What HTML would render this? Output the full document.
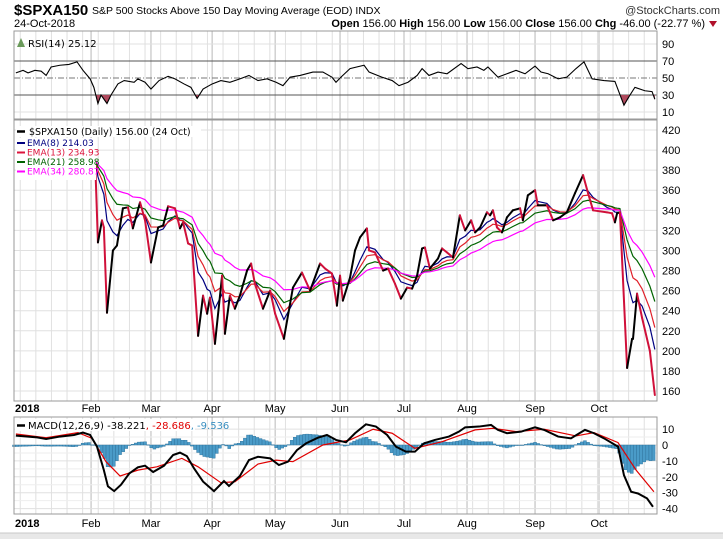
<!DOCTYPE html>
<html><head><meta charset="utf-8"><style>
body{margin:0;width:723px;height:539px;background:#fff;overflow:hidden;font-family:"Liberation Sans",sans-serif}
svg{position:absolute;left:0;top:0}
</style></head><body>
<svg id="c" width="723" height="539" viewBox="0 0 723 539">
<rect x="0" y="533" width="723" height="6" fill="#e8e8e8"/>
<line x1="0" y1="533" x2="723" y2="533" stroke="#c8c8c8"/>
<text x="14" y="15" font-size="15" font-weight="bold">$SPXA150</text>
<text x="92" y="14" font-size="10.5">S&amp;P 500 Stocks Above 150 Day Moving Average (EOD) INDX</text>
<text x="720" y="14" font-size="11" text-anchor="end" fill="#333">@StockCharts.com</text>
<text x="14" y="27" font-size="11">24-Oct-2018</text>
<text x="705" y="27" font-size="11" text-anchor="end"><tspan font-weight="bold">Open</tspan> 156.00 <tspan font-weight="bold">High</tspan> 156.00 <tspan font-weight="bold">Low</tspan> 156.00 <tspan font-weight="bold">Close</tspan> 156.00 <tspan font-weight="bold">Chg</tspan> -46.00 (-22.77 %)</text>
<polygon points="709,21 717,21 713,27" fill="#b0102a"/>
<g id="grid"></g>
<g id="marks"></g>
<g id="frames"></g>
<g id="legends">
<text x="28" y="47" font-size="10" font-family="DejaVu Sans">RSI(14) 25.12</text>
<polygon points="17,47 21,38 25,47" fill="#6a9a5a"/>
<rect x="16" y="126" width="185" height="11" fill="#fff"/>
<line x1="17" y1="131.5" x2="25" y2="131.5" stroke="#000" stroke-width="2.5"/>
<text x="29" y="135" font-size="9.5" font-family="DejaVu Sans">$SPXA150 (Daily) 156.00 (24 Oct)</text>
<g font-size="9" font-family="DejaVu Sans">
<rect x="16" y="138" width="80" height="42" fill="#fff"/>
<line x1="17" y1="143" x2="25" y2="143" stroke="#000080" stroke-width="2"/><text x="27" y="146" fill="#000080">EMA(8) 214.03</text>
<line x1="17" y1="152.5" x2="25" y2="152.5" stroke="#dc143c" stroke-width="2"/><text x="27" y="155.5" fill="#dc143c">EMA(13) 234.93</text>
<line x1="17" y1="162" x2="25" y2="162" stroke="#006400" stroke-width="2"/><text x="27" y="165" fill="#006400">EMA(21) 258.98</text>
<line x1="17" y1="171.5" x2="25" y2="171.5" stroke="#ff00ff" stroke-width="2"/><text x="27" y="174.5" fill="#ff00ff">EMA(34) 280.87</text>
</g>
<rect x="15" y="419" width="180" height="12" fill="#fff"/>
<line x1="17" y1="425.5" x2="25" y2="425.5" stroke="#000" stroke-width="2.5"/>
<text x="28" y="429" font-size="10" font-family="DejaVu Sans">MACD(12,26,9) -38.221<tspan fill="#e00000">, -28.686</tspan><tspan fill="#3a8fc0">, -9.536</tspan></text>
</g>
</svg>
<script>
// ---- data (day index = trading day since 2-Jan-2018) ----
const priceDays=[26.0,26.9,28.2,28.8,29.8,31.7,33,34.9,36.5,38.1,40.4,42,43.9,46.2,47.8,49.4,51.6,53.2,54.2,55.8,57.1,59,60.6,61.9,62.8,64.4,66.7,67.6,69.2,70.8,72.4,74.7,76,77.2,79.8,82.1,83.7,86.5,89.4,92.3,94.9,98.1,99.7,101.9,103.5,104.5,105.4,107.7,109.3,110.9,113.1,113.8,115.7,118.3,119.9,122.1,124,126,127.6,129.2,130.8,131.7,133.3,135.9,137.2,138.8,140.7,142.9,144.6,146.5,147.8,149.4,151.6,152.6,153.5,154.8,156.4,158,159.9,162.2,163.1,164.7,167,167.9,170.8,172.8,175,177.2,179.8,182.4,184,185.6,190.1,191.7,192.6,193.3,194.2,196.5,198.1,198.4,199.7,201.3,203.8,205.4];
const priceVals=[390,308,330,323,238,300,305,342,343,322,348,330,288,323,325,344,342,322,328,307,305,215,255,237,253,207,275,217,255,242,255,280,287,267,242,260,237,212,263,278,260,287,282,277,245,275,250,273,300,313,322,300,298,280,282,267,252,263,262,275,302,303,282,292,302,298,293,335,320,330,318,323,338,335,340,323,318,333,340,342,330,355,360,345,345,330,333,338,357,375,357,340,338,337,328,337,338,183,212,212,257,233,200,156];
const rsiDays=[0.6,2.9,4.5,6.7,8.7,10.3,11.9,14.7,17.6,20.2,22.1,24.4,25.6,26.9,27.9,29.8,31.1,33.3,35.3,38.5,39.7,42,43.9,46.5,49.4,51.6,54.5,56.7,58.7,60.6,63.5,66.3,69.2,72.4,75.3,78.2,81.1,84,86.2,88.5,91.7,95.8,99,101.9,103.2,104.8,107.7,112.2,113.8,117.9,121.2,123.4,126.3,129.2,130.8,133,135.9,138.8,143.3,145.5,148.4,150.6,151.9,155.1,158,160.9,163.8,167,168.9,171.2,174.4,177.2,180.1,182.7,185.3,189.1,192.6,195.5,197.1,199,202.2,204.5,205.4];
const rsiVals=[56,59,56,59,58,53,63,65,66,69,59,49,39,20,30,20,30,43,47,45,49,45,37,47,52,49,43,39,26,37,43,47,45,49,53,47,49,45,41,51,53,57,57,51,45,51,61,65,57,51,47,41,45,53,61,53,57,55,67,61,63,59,63,51,55,59,55,64,57,55,49,51,61,69,49,47,46,18,28,39,35,34,25];
const macdDays=[0.6,7.4,10.3,14.7,19.2,22.1,24.4,26.6,28.8,30.1,32.1,34.3,36.9,39.7,42,44.6,48.1,51,53.2,55.4,57.7,60.6,64.1,67.3,68.9,72.4,75.3,78.2,82.1,84.9,87.8,90.7,93.6,97.4,100.3,103.2,106.4,109.3,112.8,116,119.6,122.4,125.6,128.5,131.4,134.9,139.4,142.6,144.6,149,152.9,155.1,158,162.5,167,169.9,174.4,178.5,183,185.9,189.1,193.6,195.5,197.8,200,202.9,204.8];
const macdVals=[5.9,4.8,3.8,5.3,6.3,7.8,6.3,-1,-15.8,-26,-29,-25,-18,-14,-13,-17,-13,-6.3,-4.8,-7,-14.7,-23,-29,-22.7,-25.8,-19.5,-9.5,-7.4,-8.4,-12.6,-10.5,-3.2,1,4.6,6.3,3.2,1.7,7.4,13,11.6,6.3,-1,-4.2,-4.2,1,3.2,5.3,8.4,11.1,11.6,12.6,9.5,7.4,8.4,11.1,9.5,5.3,4.2,9.5,7.4,4.2,-1,-19,-29.4,-30.5,-33.6,-38.9];
const signalDays=[0.6,10.3,20.5,25,29.5,34,39.7,45.8,53.8,59,66.3,70.8,78.2,84,89.4,99,107.7,115.1,121.2,128.5,137.2,147.8,153.5,160.9,169.9,180.1,185.9,193.6,199.4,205.1];
const signalVals=[6.9,4.6,7.8,4.2,-10.5,-19.5,-15.8,-13.7,-8.4,-13.7,-23.7,-23.1,-12,-9.5,-10.5,0,3.2,9.9,7.4,-2.1,2.1,9.5,10.5,8.4,9.9,5.7,7.8,1.5,-15.8,-29.4];
const monthNames=["Feb","Mar","Apr","May","Jun","Jul","Aug","Sep","Oct"];
const monthDays=[24.7,43.9,63.5,83.7,104.5,125,145.2,167,187.5];
const mainTicks=[160,180,200,220,240,260,280,300,320,340,360,380,400,420];
const rsiTicks=[10,30,50,70,90];
const macdTicks=[-40,-30,-20,-10,0,10];
const emaPeriods=[8,13,21,34];
const emaColors=["#000080","#e0202a","#006400","#ff00ff"];

// ---- axes ----
const L=14,R=657;
const X=d=>L+d*3.12;
const yRSI=v=>61+(70-v)*0.85;
const yMain=v=>130+(420-v)*1.004;
const yMACD=v=>445-v*1.59;
const NS="http://www.w3.org/2000/svg";
function mk(tag,attrs,parent){const e=document.createElementNS(NS,tag);for(const k in attrs)e.setAttribute(k,attrs[k]);document.getElementById(parent).appendChild(e);return e;}
function interp(ds,vs,d){if(d<=ds[0])return vs[0];for(let i=1;i<ds.length;i++){if(d<=ds[i]){const t=(d-ds[i-1])/(ds[i]-ds[i-1]);return vs[i-1]+t*(vs[i]-vs[i-1]);}}return vs[vs.length-1];}

const panels=[[31,119],[120,401],[417,514]];
for(let d=2;d<=206;d+=5){
  for(const p of panels){const g=mk('line',{x1:X(d),x2:X(d),y1:p[0],y2:p[1],stroke:'#e0e0e0','stroke-width':1},'grid');}
}
monthDays.forEach((d,i)=>{
  for(const p of panels){const g=mk('line',{x1:X(d),x2:X(d),y1:p[0],y2:p[1],stroke:'#b8b8b8','stroke-width':1},'grid');}
  for(const yy of [412,527]){const t=mk('text',{x:X(d),y:yy,'font-size':11,'text-anchor':'middle'},'frames');t.textContent=monthNames[i];}
});
for(const yy of [412,527]){const t=mk('text',{x:15,y:yy,'font-size':11,'font-weight':'bold'},'frames');t.textContent="2018";}
mainTicks.forEach(v=>{const g=mk('line',{x1:L,x2:R,y1:yMain(v),y2:yMain(v),stroke:'#e0e0e0'},'grid');
  const t=mk('text',{x:662,y:yMain(v)+4,'font-size':11},'frames');t.textContent=v;});
rsiTicks.forEach(v=>{
  const style=(v===70||v===30)?{stroke:'#555'}:(v===50?{stroke:'#777','stroke-dasharray':'6,2,1,2'}:{stroke:'#e0e0e0'});
  const g=mk('line',Object.assign({x1:L,x2:R,y1:yRSI(v),y2:yRSI(v)},style),'grid');
  const t=mk('text',{x:662,y:yRSI(v)+4,'font-size':11},'frames');t.textContent=v;});
macdTicks.forEach(v=>{const g=mk('line',{x1:L,x2:R,y1:yMACD(v),y2:yMACD(v),stroke:'#e0e0e0'},'grid');
  const t=mk('text',{x:662,y:yMACD(v)+4,'font-size':11},'frames');t.textContent=v;});
for(const v of [-5,5,-15,-25,-35]){mk('line',{x1:L,x2:R,y1:yMACD(v),y2:yMACD(v),stroke:'#eeeeee'},'grid');}
panels.forEach(p=>{const r=mk('rect',{x:L,y:p[0],width:R-L,height:p[1]-p[0],fill:'none',stroke:'#999'},'frames');});

const rsiPts=rsiDays.map((d,i)=>[X(d),yRSI(rsiVals[i])]);
const y30=yRSI(30);
const clip=mk('clipPath',{id:'below30'},'marks');mk('rect',{x:L,y:y30,width:R-L,height:119-y30},'below30');
const fillB=mk('path',{d:'M'+rsiPts[0][0]+','+y30+' '+rsiPts.map(p=>'L'+p[0]+','+p[1]).join(' ')+' L'+rsiPts[rsiPts.length-1][0]+','+y30+'Z',fill:'#b04a5e','clip-path':'url(#below30)'},'marks');

const rl=mk('polyline',{points:rsiPts.map(p=>p.join(',')).join(' '),fill:'none',stroke:'#000','stroke-width':1.1},'marks');


emaPeriods.forEach((n,k)=>{
  let e=priceVals[0];const pts=[[X(priceDays[0]),yMain(e)]];
  for(let i=1;i<priceVals.length;i++){const dt=priceDays[i]-priceDays[i-1];const a=1-Math.pow(1-2/(n+1),dt);e=e+a*(priceVals[i]-e);pts.push([X(priceDays[i]),yMain(e)]);}
  const pl=mk('polyline',{points:pts.map(p=>p.join(',')).join(' '),fill:'none',stroke:emaColors[k],'stroke-width':1.2},'marks');
  
  
});
for(let i=1;i<priceVals.length;i++){
  const up=priceVals[i]>=priceVals[i-1];
  const s=mk('line',{x1:X(priceDays[i-1]),y1:yMain(priceVals[i-1]),x2:X(priceDays[i]),y2:yMain(priceVals[i]),stroke:up?'#000':'#d0103a','stroke-width':2,'stroke-linecap':'round'},'marks');
  
  
}

for(let d=0;d<=205;d++){
  const h=interp(macdDays,macdVals,d)-interp(signalDays,signalVals,d);
  const y0=yMACD(0),y1=yMACD(h);
  const b=mk('rect',{x:X(d)-1.5,y:Math.min(y0,y1),width:3,height:Math.max(0.5,Math.abs(y1-y0)),fill:'#4a9bc8',stroke:'#2a6f99','stroke-width':0.4},'marks');
  
  
}
const sl=mk('polyline',{points:signalDays.map((d,i)=>X(d)+','+yMACD(signalVals[i])).join(' '),fill:'none',stroke:'#e00000','stroke-width':1.2},'marks');

const ml=mk('polyline',{points:macdDays.map((d,i)=>X(d)+','+yMACD(macdVals[i])).join(' '),fill:'none',stroke:'#000','stroke-width':2},'marks');

</script>
</body></html>
